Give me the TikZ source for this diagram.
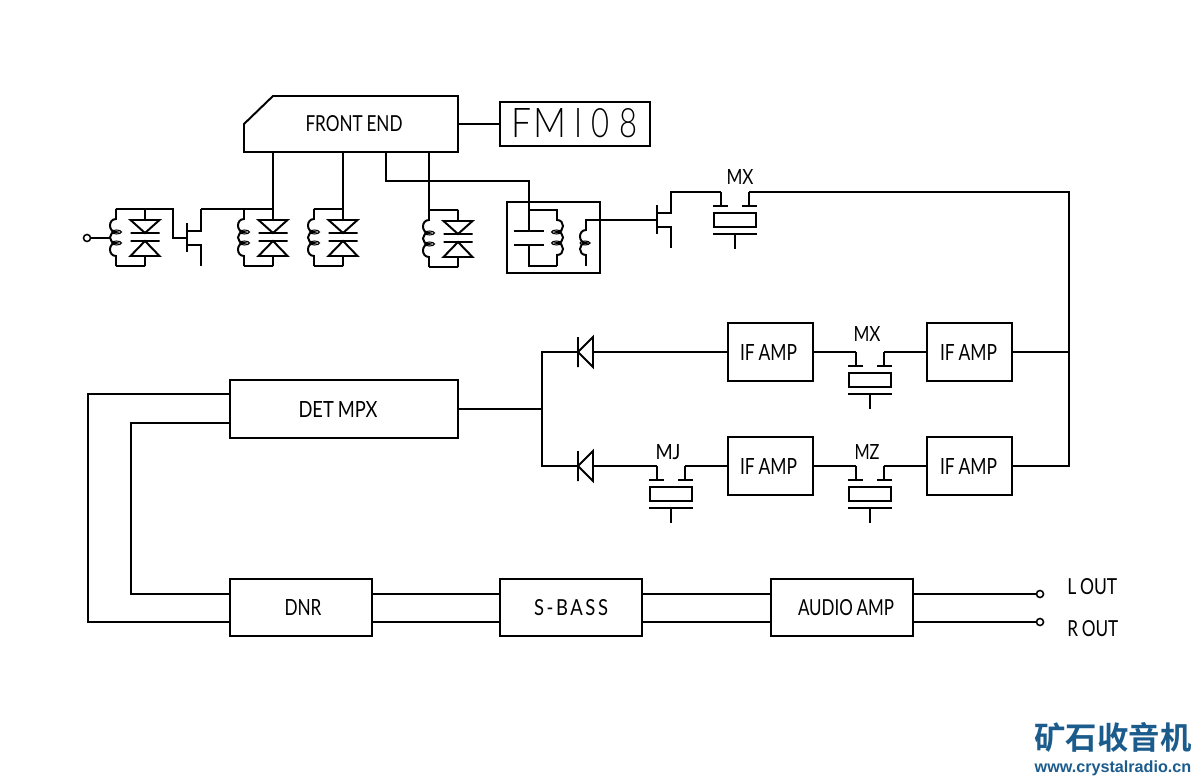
\documentclass[tikz,border=0pt]{standalone}
\usepackage{fontspec}
\setmainfont[WordSpace=0.85]{Lato}
\newfontfamily\thinfont{Lato Light}
\newfontfamily\cjk{Noto Sans CJK SC Bold}
\newfontfamily\wwwfont{Liberation Sans Bold}
\newdimen\pxl \pxl=0.025cm
\newcommand\fmg[2]{\resizebox{#1\pxl}{29\pxl}{#2}}
\newcommand\lab[3][16]{\resizebox{#2\pxl}{#1\pxl}{#3}}
\definecolor{logoblue}{HTML}{1B5C8C}
\tikzset{
  every picture/.style={line join=miter},
  wire/.style={line width=1.4pt,black},
  hook/.style={line width=0.75pt,black},
  blk/.style={draw,line width=1.4pt,inner sep=0pt,outer sep=0pt,font=\fontsize{15.6}{18}\selectfont},
  lbl/.style={inner sep=0pt,font=\fontsize{15.6}{18}\selectfont},
  term/.style={draw,circle,line width=1.1pt,inner sep=0pt,minimum size=5pt,fill=white},
  tank/.pic={
    \draw[wire] (0,0)--(29,0) (0,57)--(29,57)
      (0,0)--(0,10) .. controls (-8,10) and (-8,23) .. (0,23)
      .. controls (-8,23) and (-8,34) .. (0,34)
      .. controls (-8,34) and (-8,47) .. (0,47)--(0,57);
    \draw[hook] (0.5,23) ellipse (5 and 2) (0.5,34) ellipse (5 and 2);
    \draw[wire] (29,0)--(29,11) (14.5,11)--(43.5,11)--(29,24)--cycle
      (14.5,24)--(43.5,24) (14.5,32)--(43.5,32)
      (29,32)--(14.5,47)--(43.5,47)--cycle (29,47)--(29,57);
    \coordinate (-tl) at (0,0); \coordinate (-tr) at (29,0);
    \coordinate (-tap) at (-6,29);
  },
  fet/.pic={
    \draw[wire] (0,-15)--(0,14) (0,-7)--(14,-7)--(14,-29) (0,7)--(14,7)--(14,28);
    \coordinate (-g) at (0,0); \coordinate (-d) at (14,-29);
  },
  xtal/.pic={
    \draw[wire] (-14,0)--(-14,14) (-22,14)--(-7,14) (14,0)--(14,14) (7,14)--(22,14)
      (-21,21) rectangle (21,35) (-22,42)--(22,42) (0,42)--(0,57);
    \coordinate (-l) at (-14,0); \coordinate (-r) at (14,0);
  },
  dio/.pic={
    \draw[wire] (0,-15)--(0,15) (0,0)--(15,-15)--(15,15)--cycle;
    \coordinate (-a) at (0,0); \coordinate (-k) at (15,0);
  },
}
\begin{document}
\begin{tikzpicture}[x=0.025cm,y=-0.025cm]
\useasboundingbox (0,0) rectangle (1200,780);
\fill[white] (0,0) rectangle (1200,780);

% front end and display
\node[lbl,minimum width=214*0.025cm,minimum height=56*0.025cm,outer sep=0pt] (fe) at (351,124) {\hspace*{6\pxl}\lab{97}{FRONT END}};
\draw[wire] (fe.south west) -- (fe.west) -- (273,96) -- (fe.north east) -- (fe.south east) -- cycle;
\node[blk,minimum width=150*0.025cm,minimum height=44*0.025cm] (fm) at (575,124) {};
\node[inner sep=0pt,anchor=center] (fmt) at (574.25,123.5) {\thinfont\fmg{20}{F}\hspace{2.5\pxl}\fmg{33}{M}\hspace{7.5\pxl}\fmg{8}{I}\hspace{9.5\pxl}\fmg{18}{0}\hspace{10\pxl}\fmg{18}{8}};
\draw[wire] (fe.east) -- (fm.west);

% input section
\pic (t1) at (116,209) {tank};
\pic (t2) at (244,209) {tank};
\pic (t3) at (314,209) {tank};
\pic (t4) at (429,210) {tank};
\node[term] (ant) at (87,238) {};
\draw[wire] (ant) -- (t1-tap);
\pic (f1) at (187,238) {fet};
\draw[wire] (t1-tr) -- (173,209) -- (173,238) -- (f1-g);
\draw[wire] (f1-d) -- (t2-tr);
\draw[wire] (fe.south -| t2-tr) -- (t2-tr);
\draw[wire] (fe.south -| t3-tr) -- (t3-tr);
\draw[wire] (fe.south -| t4-tl) -- (t4-tl);

% IF transformer
\node[blk,minimum width=93*0.025cm,minimum height=71*0.025cm] (ifbox) at (553.5,237.5) {};
\coordinate (ctop) at (529,210);
\coordinate (fbr) at (557,266);
\draw[wire] (386,152) -- (386,181) -- (529,181) -- (ctop) -- (529,231);
\draw[wire] (514,231) -- (544,231) (514,245) -- (544,245);
\draw[wire] (529,245) -- (529,266) -- (fbr);
\draw[wire] (ctop) -- (557,210) -- (557,220)
  .. controls (565,220) and (565,232) .. (557,232)
  .. controls (565,232) and (565,243) .. (557,243)
  .. controls (565,243) and (565,255) .. (557,255) -- (fbr);
\draw[hook] (556.5,232) ellipse (5 and 2) (556.5,243) ellipse (5 and 2);
\pic (f2) at (657,220) {fet};
\draw[wire] (f2-g) -- (586,220) -- (586,230)
  .. controls (578,230) and (578,243) .. (586,243)
  .. controls (578,243) and (578,255) .. (586,255) -- (586,266);
\draw[hook] (585,243) ellipse (5 and 2);

\pic (x1) at (735,192) {xtal};
\node[lbl] (x1t) at (740,177) {\lab[15]{27}{MX}};
\draw[wire] (f2-d) |- (x1-l);

% IF strip
\node[blk,minimum width=85*0.025cm,minimum height=58*0.025cm] (if1) at (770.5,352) {\lab{57}{IF AMP}\hspace*{4\pxl}};
\node[blk,minimum width=85*0.025cm,minimum height=58*0.025cm] (if2) at (969.5,352) {\lab{57}{IF AMP}\hspace*{2\pxl}};
\node[blk,minimum width=85*0.025cm,minimum height=58*0.025cm] (if3) at (770.5,466) {\lab{57}{IF AMP}\hspace*{4\pxl}};
\node[blk,minimum width=85*0.025cm,minimum height=58*0.025cm] (if4) at (969.5,466) {\lab{57}{IF AMP}\hspace*{2\pxl}};
\pic (x2) at (870,352) {xtal};
\pic (x3) at (870,466) {xtal};
\pic (x4) at (671,466) {xtal};
\node[lbl] (x2t) at (867,334) {\lab[15]{27}{MX}};
\node[lbl] (x3t) at (867,452) {\lab[15]{25}{MZ}};
\node[lbl] (x4t) at (668,452) {\lab[15]{25}{MJ}};
\pic (d1) at (578,352) {dio};
\pic (d2) at (578,466) {dio};
\coordinate (rail) at (1069,409);
\draw[wire] (x1-r) -- (1069,192) -- (1069,466) -- (if4.east);
\draw[wire] (if2.east) -- (rail |- if2.east);
\draw[wire] (if2.west) -- (x2-r);
\draw[wire] (x2-l) -- (if1.east);
\draw[wire] (if1.west) -- (d1-k);
\draw[wire] (if4.west) -- (x3-r);
\draw[wire] (x3-l) -- (if3.east);
\draw[wire] (if3.west) -- (x4-r);
\draw[wire] (x4-l) -- (d2-k);

\node[blk,minimum width=228*0.025cm,minimum height=58*0.025cm] (det) at (344,409) {\lab{79}{DET MPX}\hspace*{12\pxl}};
\coordinate (dj) at (542,409);
\draw[wire] (det.east) -- (dj);
\draw[wire] (d1-a) -- (542,352) -- (542,466) -- (d2-a);

% audio chain
\node[blk,minimum width=142*0.025cm,minimum height=57*0.025cm] (dnr) at (301,607.5) {\hspace*{4\pxl}\lab{37}{DNR}};
\node[blk,minimum width=142*0.025cm,minimum height=57*0.025cm] (sb) at (571,607.5) {\lab{74}{\addfontfeature{LetterSpace=14}S-BASS}};
\node[blk,minimum width=142*0.025cm,minimum height=57*0.025cm] (amp) at (842,607.5) {\hspace*{8\pxl}\lab{96}{AUDIO AMP}};
\node[term] (lo) at (1040,594) {};
\node[term] (ro) at (1040,622) {};
\node[lbl,anchor=west] (lot) at (1067,587) {\lab{50}{L OUT}};
\node[lbl,anchor=west] (rot) at (1067,629) {\lab{51}{R OUT}};
\coordinate (up) at (0,594);
\coordinate (dn) at (0,622);
\foreach \a/\b in {dnr.east/sb.west,sb.east/amp.west}{
  \draw[wire] (\a |- up) -- (\b |- up);
  \draw[wire] (\a |- dn) -- (\b |- dn);
}
\draw[wire] (amp.east |- up) -- (lo);
\draw[wire] (amp.east |- dn) -- (ro);
\draw[wire] (det.west |- 0,394) -- (88,394) -- (88,622) -- (dnr.west |- dn);
\draw[wire] (det.west |- 0,423) -- (131,423) -- (131,594) -- (dnr.west |- up);

% logo
\node[inner sep=0pt,text=logoblue] (logo) at (1113,737) {\cjk\fontsize{22.3}{24}\selectfont 矿石收音机};
\node[inner sep=0pt,text=logoblue] (web) at (1113,768) {\wwwfont\fontsize{11.5}{13}\selectfont www.crystalradio.cn};
\end{tikzpicture}
\end{document}
